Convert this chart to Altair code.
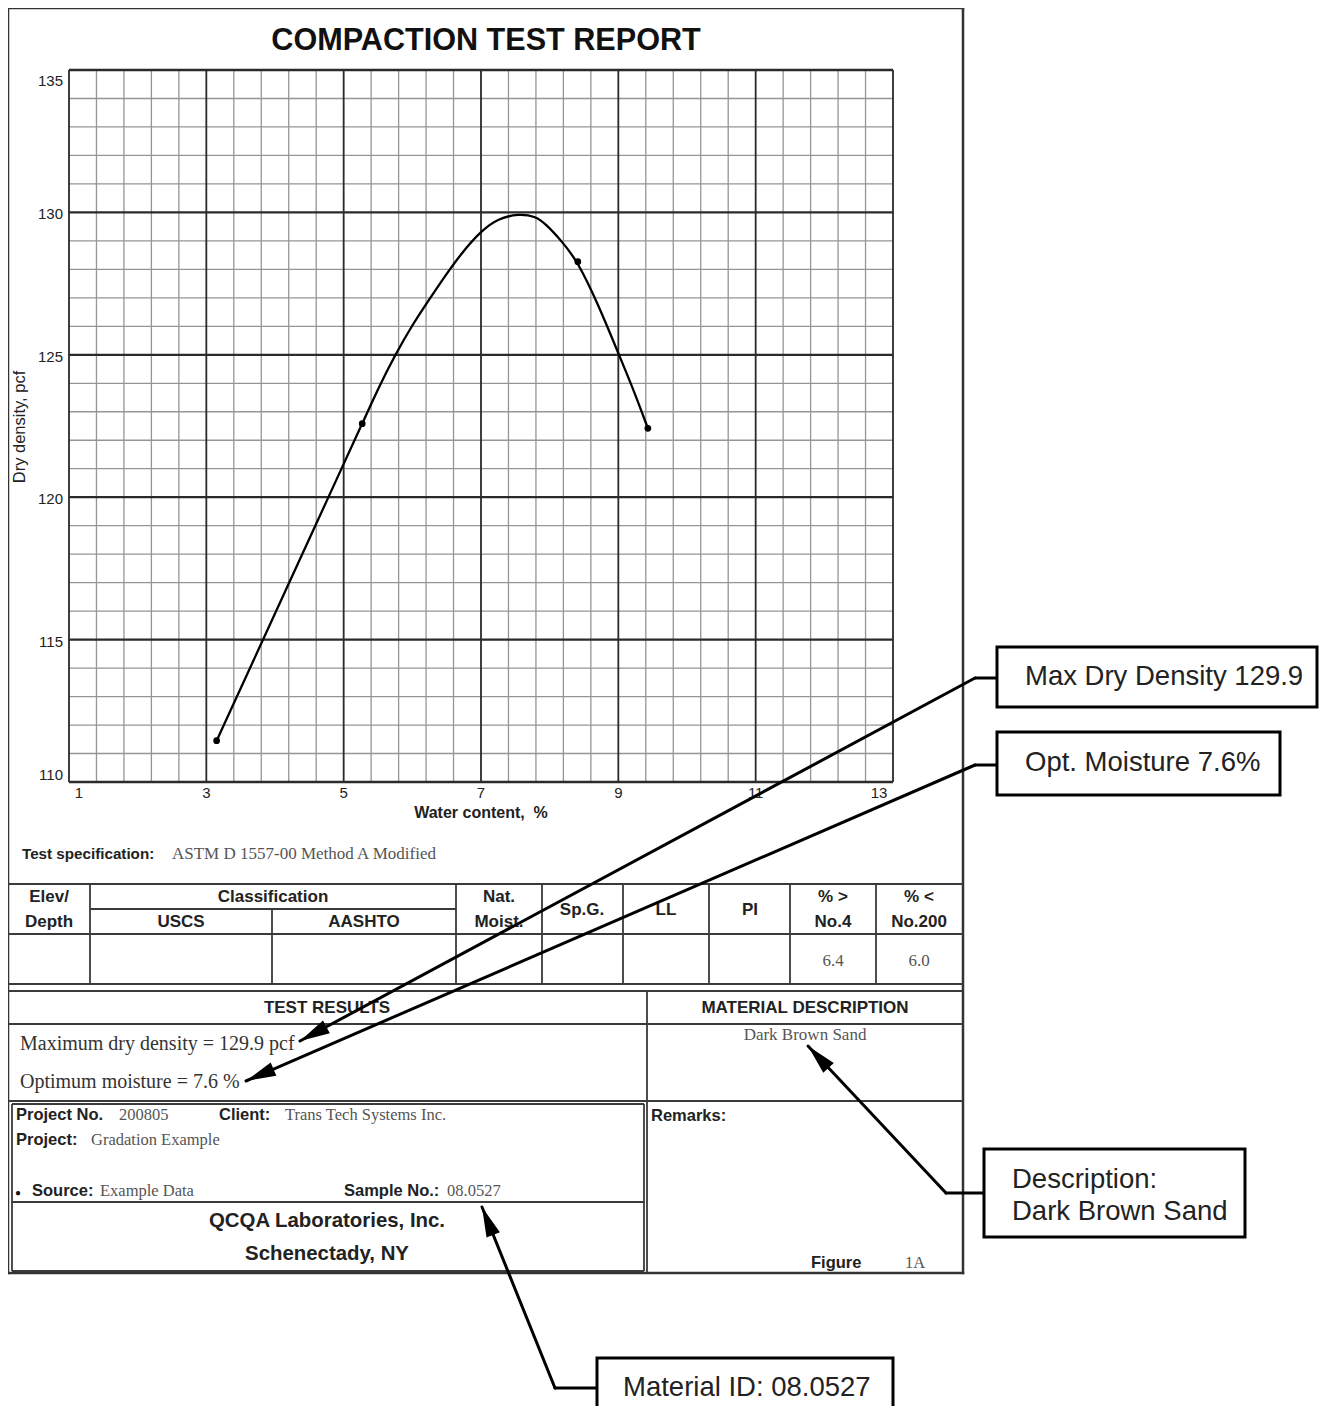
import math
import altair as alt
import pandas as pd

# ---------------- values ----------------
water_pts = [3.15, 5.27, 8.41, 9.43]
density_pts = [111.45, 122.58, 128.27, 122.42]

water_curve = [3.15, 3.80, 5.00, 5.27, 5.51, 5.75, 6.00, 6.24, 6.48, 6.72, 7.00, 7.26,
               7.55, 7.79, 7.94, 8.18, 8.41, 8.71, 9.00, 9.20, 9.43]
density_curve = [111.45, 114.86, 121.17, 122.58, 123.86, 125.00, 126.05, 126.92, 127.78,
                 128.58, 129.35, 129.80, 129.95, 129.87, 129.60, 128.98, 128.27, 126.75,
                 125.05, 123.90, 122.42]

x_major = [1, 3, 5, 7, 9, 11, 13]
y_major = [110, 115, 120, 125, 130, 135]
x_minor = [1.4, 1.8, 2.2, 2.6, 3.4, 3.8, 4.2, 4.6, 5.4, 5.8, 6.2, 6.6,
           7.4, 7.8, 8.2, 8.6, 9.4, 9.8, 10.2, 10.6, 11.4, 11.8, 12.2, 12.6]
y_minor = [111, 112, 113, 114, 116, 117, 118, 119, 121, 122, 123, 124,
           126, 127, 128, 129, 131, 132, 133, 134]

title_text = "COMPACTION TEST REPORT"
x_title = "Water content,\u00a0 %"
y_title = "Dry density, pcf"
spec_label = "Test specification:"
spec_value = "ASTM D 1557-00 Method A Modified"
pct_no4 = "6.4"
pct_no200 = "6.0"
max_dd = "Maximum dry density = 129.9 pcf"
opt_moist = "Optimum moisture = 7.6 %"
material = "Dark Brown Sand"
callout_texts = ["Max Dry Density 129.9", "Opt. Moisture 7.6%", "Description:",
                 "Dark Brown Sand", "Material ID: 08.0527"]

# ---------------- layout (page pixel coordinates) ----------------
SANS = "Liberation Sans"
SERIF = "Liberation Serif"
O = 8
W, H = 1311, 1398
PLOT_L, PLOT_R, PLOT_T, PLOT_B = 69, 893, 70, 782

xs = alt.Scale(domain=[1, 13], range=[PLOT_L - O, PLOT_R - O], nice=False, zero=False)
ys = alt.Scale(domain=[110, 135], range=[PLOT_B - O, PLOT_T - O], nice=False, zero=False)


def texts(rows, **kw):
    df = pd.DataFrame(rows, columns=["x", "y", "t"])
    df["x"] = df["x"] - O
    df["y"] = df["y"] - O
    props = dict(baseline="middle")
    props.update(kw)
    return alt.Chart(df).mark_text(**props).encode(
        x=alt.X("x:Q", scale=None), y=alt.Y("y:Q", scale=None), text="t:N")


def rules(segs, color, width, cap="butt"):
    df = pd.DataFrame(segs, columns=["x", "y", "x2", "y2"]) - O
    return alt.Chart(df).mark_rule(color=color, strokeWidth=width, strokeCap=cap).encode(
        x=alt.X("x:Q", scale=None), y=alt.Y("y:Q", scale=None), x2="x2:Q", y2="y2:Q")


layers = []

# outer report border
layers.append(rules([(8, 8, 963, 8), (8, 1273, 963, 1273), (8, 8, 8, 1273), (963, 8, 963, 1273)],
                    "#333333", 2.5, "square"))

# tables
table_segs = [
    (8, 884, 963, 884), (90, 909, 456, 909), (8, 934, 963, 934), (8, 984, 963, 984),
    (8, 991, 963, 991), (8, 1024, 963, 1024), (8, 1101, 963, 1101),
    (90, 884, 90, 984), (272, 909, 272, 984), (456, 884, 456, 984), (542, 884, 542, 984),
    (623, 884, 623, 984), (709, 884, 709, 984), (790, 884, 790, 984), (876, 884, 876, 984),
    (647, 991, 647, 1273),
    (12, 1104, 644, 1104), (12, 1271, 644, 1271), (12, 1104, 12, 1271), (644, 1104, 644, 1271),
    (12, 1202, 644, 1202),
]
layers.append(rules(table_segs, "#3a3a3a", 1.8))

# ---------------- plot ----------------
vmin = pd.DataFrame({"g": x_minor, "lo": 110, "hi": 135})
hmin = pd.DataFrame({"g": y_minor, "lo": 1, "hi": 13})
vmaj = pd.DataFrame({"g": x_major, "lo": 110, "hi": 135})
hmaj = pd.DataFrame({"g": y_major, "lo": 1, "hi": 13})

layers.append(alt.Chart(vmin).mark_rule(color="#959595", strokeWidth=1.3).encode(
    x=alt.X("g:Q", scale=xs, axis=None), y=alt.Y("lo:Q", scale=ys, axis=None), y2="hi:Q"))
layers.append(alt.Chart(hmin).mark_rule(color="#959595", strokeWidth=1.3).encode(
    y=alt.Y("g:Q", scale=ys, axis=None), x=alt.X("lo:Q", scale=xs, axis=None), x2="hi:Q"))
layers.append(alt.Chart(vmaj).mark_rule(color="#2a2a2a", strokeWidth=1.8).encode(
    x=alt.X("g:Q", scale=xs, axis=None), y=alt.Y("lo:Q", scale=ys, axis=None), y2="hi:Q"))
layers.append(alt.Chart(hmaj).mark_rule(color="#2a2a2a", strokeWidth=2.3).encode(
    y=alt.Y("g:Q", scale=ys, axis=None), x=alt.X("lo:Q", scale=xs, axis=None), x2="hi:Q"))

curve_df = pd.DataFrame({"w": water_curve, "d": density_curve})
layers.append(alt.Chart(curve_df).mark_line(color="black", strokeWidth=2.3,
                                            interpolate="basis").encode(
    x=alt.X("w:Q", scale=xs, axis=None), y=alt.Y("d:Q", scale=ys, axis=None)))
pts_df = pd.DataFrame({"w": water_pts, "d": density_pts})
layers.append(alt.Chart(pts_df).mark_point(shape="circle", filled=True, color="black", size=45, opacity=1).encode(
    x=alt.X("w:Q", scale=xs, axis=None), y=alt.Y("d:Q", scale=ys, axis=None)))

# tick labels
ytk = pd.DataFrame({"v": y_major, "lab": [str(v) for v in y_major]})
tick_style = dict(font=SANS, fontSize=15, color="#222222")
layers.append(alt.Chart(ytk).transform_filter("datum.v > 110 && datum.v < 135").mark_text(
    align="right", baseline="middle", dy=2, **tick_style).encode(
    x=alt.value(63 - O), y=alt.Y("v:Q", scale=ys, axis=None), text="lab:N"))
layers.append(alt.Chart(ytk).transform_filter("datum.v == 135").mark_text(
    align="right", baseline="middle", dy=11, **tick_style).encode(
    x=alt.value(63 - O), y=alt.Y("v:Q", scale=ys, axis=None), text="lab:N"))
layers.append(alt.Chart(ytk).transform_filter("datum.v == 110").mark_text(
    align="right", baseline="middle", dy=-7, **tick_style).encode(
    x=alt.value(63 - O), y=alt.Y("v:Q", scale=ys, axis=None), text="lab:N"))

xtk = pd.DataFrame({"v": x_major, "lab": [str(v) for v in x_major]})
layers.append(alt.Chart(xtk).transform_filter("datum.v > 1 && datum.v < 13").mark_text(
    align="center", baseline="middle", **tick_style).encode(
    x=alt.X("v:Q", scale=xs, axis=None), y=alt.value(793 - O), text="lab:N"))
layers.append(alt.Chart(xtk).transform_filter("datum.v == 1").mark_text(
    align="center", baseline="middle", dx=10, **tick_style).encode(
    x=alt.X("v:Q", scale=xs, axis=None), y=alt.value(793 - O), text="lab:N"))
layers.append(alt.Chart(xtk).transform_filter("datum.v == 13").mark_text(
    align="center", baseline="middle", dx=-14, **tick_style).encode(
    x=alt.X("v:Q", scale=xs, axis=None), y=alt.value(793 - O), text="lab:N"))

# titles
layers.append(texts([(486, 41, title_text)], font=SANS, fontSize=30.6, fontWeight="bold",
                    align="center", color="#111111"))
layers.append(texts([(481, 813, x_title)], font=SANS, fontSize=16, fontWeight="bold",
                    align="center", color="#222222"))
layers.append(texts([(20, 427, y_title)], font=SANS, fontSize=16.5, align="center",
                    angle=270, color="#222222"))
layers.append(texts([(22, 854, spec_label)], font=SANS, fontSize=15.2, fontWeight="bold",
                    align="left", color="#222222"))
layers.append(texts([(172, 854, spec_value)], font=SERIF, fontSize=17, align="left",
                    color="#555555"))

# table headers
hdr = [
    (49, 897, "Elev/"), (49, 922, "Depth"), (273, 897, "Classification"),
    (181, 922, "USCS"), (364, 922, "AASHTO"), (499, 897, "Nat."), (499, 922, "Moist."),
    (582, 910, "Sp.G."), (666, 910, "LL"), (750, 910, "PI"),
    (833, 897, "% >"), (833, 922, "No.4"), (919, 897, "% <"), (919, 922, "No.200"),
    (327, 1008, "TEST RESULTS"), (805, 1008, "MATERIAL DESCRIPTION"),
]
layers.append(texts(hdr, font=SANS, fontSize=17, fontWeight="bold", align="center",
                    color="#222222"))
layers.append(texts([(833, 961, pct_no4), (919, 961, pct_no200), (805, 1035, material)],
                    font=SERIF, fontSize=17, align="center", color="#555555"))
layers.append(texts([(20, 1044, max_dd), (20, 1082, opt_moist)], font=SERIF, fontSize=20,
                    align="left", color="#333333"))

# project block
lbl = [
    (16, 1115, "Project No."), (219, 1115, "Client:"), (16, 1140, "Project:"),
    (32, 1191, "Source:"), (344, 1191, "Sample No.:"), (651, 1116, "Remarks:"),
    (811, 1263, "Figure"),
]
layers.append(texts(lbl, font=SANS, fontSize=16.5, fontWeight="bold", align="left",
                    color="#222222"))
vals = [
    (119, 1115, "200805"), (285, 1115, "Trans Tech Systems Inc."),
    (91, 1140, "Gradation Example"), (100, 1191, "Example Data"),
    (447, 1191, "08.0527"), (905, 1263, "1A"),
]
layers.append(texts(vals, font=SERIF, fontSize=16.5, align="left", color="#555555"))
layers.append(texts([(18, 1193, "\u25cf")], font=SANS, fontSize=10, align="center",
                    color="#111111"))
layers.append(texts([(327, 1221, "QCQA Laboratories, Inc."), (327, 1254, "Schenectady, NY")],
                    font=SANS, fontSize=20.4, fontWeight="bold", align="center", color="#222222"))

# ---------------- callouts ----------------
call_lines = [
    (997, 678, 975, 678), (975, 678, 300, 1041),
    (997, 765, 975, 765), (975, 765, 246, 1081),
    (984, 1193, 946, 1193), (946, 1193, 808, 1046),
    (597, 1388, 555, 1388), (555, 1388, 482, 1207),
]
layers.append(rules(call_lines, "black", 3, "round"))

arrows = [(975, 678, 300, 1041), (975, 765, 246, 1081), (946, 1193, 808, 1046), (555, 1388, 482, 1207)]
arr_rows = []
for ex, ey, tx, ty in arrows:
    ang = (math.degrees(math.atan2(tx - ex, -(ty - ey))) + 360) % 360
    arr_rows.append({"x": tx - O, "y": ty - O, "a": ang})
layers.append(alt.Chart(pd.DataFrame(arr_rows)).mark_point(
    shape="M0,0L0.48,2L-0.48,2Z", filled=True, color="black", size=900, opacity=1).encode(
    x=alt.X("x:Q", scale=None), y=alt.Y("y:Q", scale=None), angle=alt.Angle("a:Q", scale=None)))

boxes = pd.DataFrame([(997, 647, 1317, 707), (997, 732, 1280, 795), (984, 1149, 1245, 1237),
                      (597, 1358, 893, 1420)], columns=["x", "y", "x2", "y2"]) - O
layers.append(alt.Chart(boxes).mark_rect(fill="white", stroke="black", strokeWidth=3).encode(
    x=alt.X("x:Q", scale=None), y=alt.Y("y:Q", scale=None), x2="x2:Q", y2="y2:Q"))

layers.append(texts([(1025, 677, callout_texts[0]), (1025, 763, callout_texts[1]),
                     (1012, 1180, callout_texts[2]), (1012, 1212, callout_texts[3]),
                     (623, 1388, callout_texts[4])],
                    font=SANS, fontSize=27.5, align="left", color="#222222"))

chart = alt.layer(*layers).properties(
    width=W, height=H, padding=0, autosize=alt.AutoSizeParams(type="none"),
    background="white",
).configure_view(stroke=None)

chart.save("out.html", embed_options={"renderer": "svg", "actions": False})
